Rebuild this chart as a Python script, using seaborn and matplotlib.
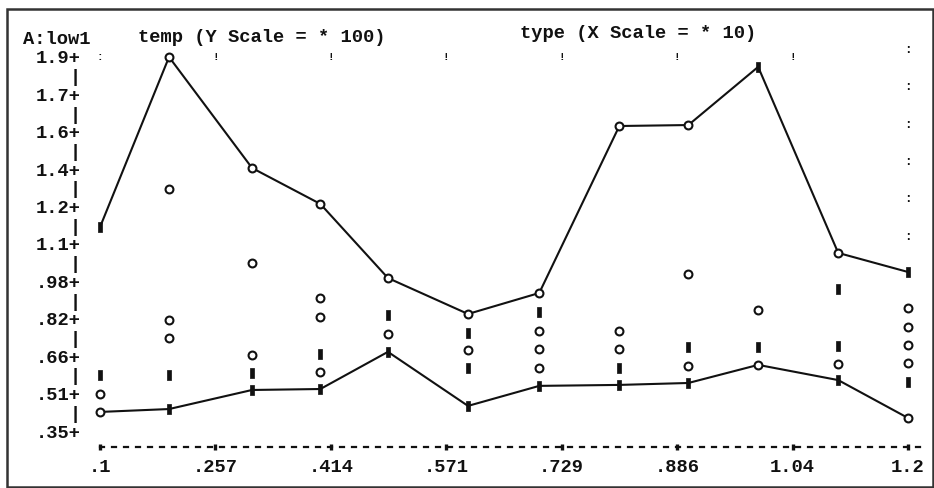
import numpy as np
import pandas as pd
import matplotlib
matplotlib.use("Agg")
import matplotlib.pyplot as plt
from matplotlib.patches import Rectangle
import seaborn as sns

# ---------------- data ----------------
x_type = [0.10, 0.194, 0.307, 0.40, 0.492, 0.601, 0.698, 0.807, 0.901, 0.996, 1.105, 1.20]
upper_temp = [1.195, 1.90, 1.44, 1.291, 0.984, 0.835, 0.922, 1.614, 1.618, 1.859, 1.088, 1.009]
upper_sym = ['#', 'o', 'o', 'o', 'o', 'o', 'o', 'o', 'o', '#', 'o', '#']
lower_temp = [0.429, 0.441, 0.520, 0.524, 0.678, 0.454, 0.537, 0.541, 0.549, 0.624, 0.561, 0.404]
lower_sym = ['o', '#', '#', '#', '#', '#', '#', '#', '#', 'o', '#', 'o']

# intermediate observations: column index, temp value, plotting symbol
mid_col = [0, 0,
           1, 1, 1, 1,
           2, 2, 2,
           3, 3, 3, 3,
           4, 4,
           5, 5, 5,
           6, 6, 6, 6,
           7, 7, 7,
           8, 8, 8,
           9, 9,
           10, 10, 10,
           11, 11, 11, 11, 11]
mid_temp = [0.503, 0.582,
            1.353, 0.810, 0.735, 0.582,
            1.046, 0.665, 0.590,
            0.901, 0.822, 0.669, 0.595,
            0.831, 0.752,
            0.756, 0.686, 0.611,
            0.843, 0.765, 0.690, 0.611,
            0.765, 0.690, 0.611,
            1.001, 0.698, 0.619,
            0.852, 0.698,
            0.939, 0.702, 0.628,
            0.860, 0.781, 0.706, 0.632, 0.553]
mid_sym = ['o', '#',
           'o', 'o', 'o', '#',
           'o', 'o', '#',
           'o', 'o', '#', 'o',
           '#', 'o',
           '#', 'o', '#',
           '#', 'o', 'o', 'o',
           'o', 'o', '#',
           'o', '#', 'o',
           'o', '#',
           '#', '#', 'o',
           'o', 'o', 'o', 'o', '#']

y_tick_labels = ["1.9", "1.7", "1.6", "1.4", "1.2", "1.1", ".98", ".82", ".66", ".51", ".35"]
x_tick_labels = [".1", ".257", ".414", ".571", ".729", ".886", "1.04", "1.2"]
y_min, y_max = 0.35, 1.9
x_min, x_max = 0.1, 1.2

title_left = "A:low1"
title_mid = "temp (Y Scale = * 100)"
title_right = "type (X Scale = * 10)"

# ---------------- style ----------------
sns.set_style("white")
plt.rcParams['font.family'] = ['Liberation Mono', 'DejaVu Sans Mono']
plt.rcParams['font.weight'] = 'bold'
INK = '#111111'
FS = 13.5

W, H = 934, 488
fig = plt.figure(figsize=(W / 100, H / 100), dpi=100)

# axes placement in pixels
px_per_x = 808 / (x_max - x_min)
px_per_y = 374 / (y_max - y_min)
ax_left_px, ax_right_px = 100, 922
ax_top_px, ax_bot_px = 57, 447
ax = fig.add_axes([ax_left_px / W, (H - ax_bot_px) / H,
                   (ax_right_px - ax_left_px) / W, (ax_bot_px - ax_top_px) / H])
ax.set_xlim(x_min, x_min + (ax_right_px - ax_left_px) / px_per_x)
ax.set_ylim(y_min - (ax_bot_px - 431) / px_per_y, y_max)

# build frames
df_up = pd.DataFrame({'type': x_type, 'temp': upper_temp, 'sym': upper_sym})
df_lo = pd.DataFrame({'type': x_type, 'temp': lower_temp, 'sym': lower_sym})
df_mid = pd.DataFrame({'type': [x_type[i] for i in mid_col], 'temp': mid_temp, 'sym': mid_sym})
df_pts = pd.concat([df_up, df_lo, df_mid], ignore_index=True)

sns.lineplot(data=df_up, x='type', y='temp', color=INK, lw=1.5, sort=False,
             estimator=None, ax=ax, zorder=2, clip_on=False)
sns.lineplot(data=df_lo, x='type', y='temp', color=INK, lw=1.5, sort=False,
             estimator=None, ax=ax, zorder=2, clip_on=False)

bar_marker = [(-0.22, -0.5), (0.22, -0.5), (0.22, 0.5), (-0.22, 0.5), (-0.22, -0.5)]
sns.scatterplot(data=df_pts[df_pts.sym == 'o'], x='type', y='temp', marker='o', s=32,
                facecolor='white', edgecolor=INK, linewidth=1.5, ax=ax, zorder=3,
                clip_on=False, legend=False)
sns.scatterplot(data=df_pts[df_pts.sym == '#'], x='type', y='temp', marker=bar_marker, s=55,
                color=INK, edgecolor=INK, linewidth=0.5, ax=ax, zorder=3,
                clip_on=False, legend=False)

# axes ticks
y_major = np.linspace(y_min, y_max, len(y_tick_labels))
y_minor = (y_major[:-1] + y_major[1:]) / 2
ax.set_yticks(y_major, [lab + "+" for lab in y_tick_labels[::-1]])
ax.set_yticks(y_minor, ["|"] * len(y_minor), minor=True)
ax.tick_params(axis='y', which='both', left=True, length=0, pad=14,
               labelsize=FS, labelcolor=INK)

x_major = np.linspace(x_min, x_max, len(x_tick_labels))
ax.set_xticks(x_major, x_tick_labels)
ax.tick_params(axis='x', which='major', bottom=True, direction='inout', length=5,
               width=2.4, color=INK, pad=6, labelsize=FS, labelcolor=INK)

for s in ['top', 'right', 'left']:
    ax.spines[s].set_visible(False)
ax.spines['bottom'].set_linewidth(1.6)
ax.spines['bottom'].set_color(INK)
ax.spines['bottom'].set_linestyle((0, (1.8, 3.6)))
ax.set_xlabel('')
ax.set_ylabel('')

# grid marks along the top and the right side (typewriter style)
for i, xv in enumerate(x_major[:-1]):
    ax.text(xv, y_max, ':' if i == 0 else '!', ha='center', va='center',
            fontsize=8, color=INK, clip_on=False)
for yv in y_major[::-1][:6]:
    ax.text(x_max, yv + 0.03, ':', ha='center', va='center',
            fontsize=9, color=INK, clip_on=False)

# titles
fig.text(23 / W, 1 - 40 / H, title_left, ha='left', va='center', fontsize=FS, color=INK)
fig.text(138 / W, 1 - 38 / H, title_mid, ha='left', va='center', fontsize=FS, color=INK)
fig.text(520 / W, 1 - 33 / H, title_right, ha='left', va='center', fontsize=FS, color=INK)

# outer frame
fig.patches.append(Rectangle((6.5 / W, 1.5 / H), 926 / W, 477.5 / H,
                             transform=fig.transFigure, fill=False,
                             edgecolor='#333333', linewidth=1.8))

fig.savefig('out.png', dpi=100)
